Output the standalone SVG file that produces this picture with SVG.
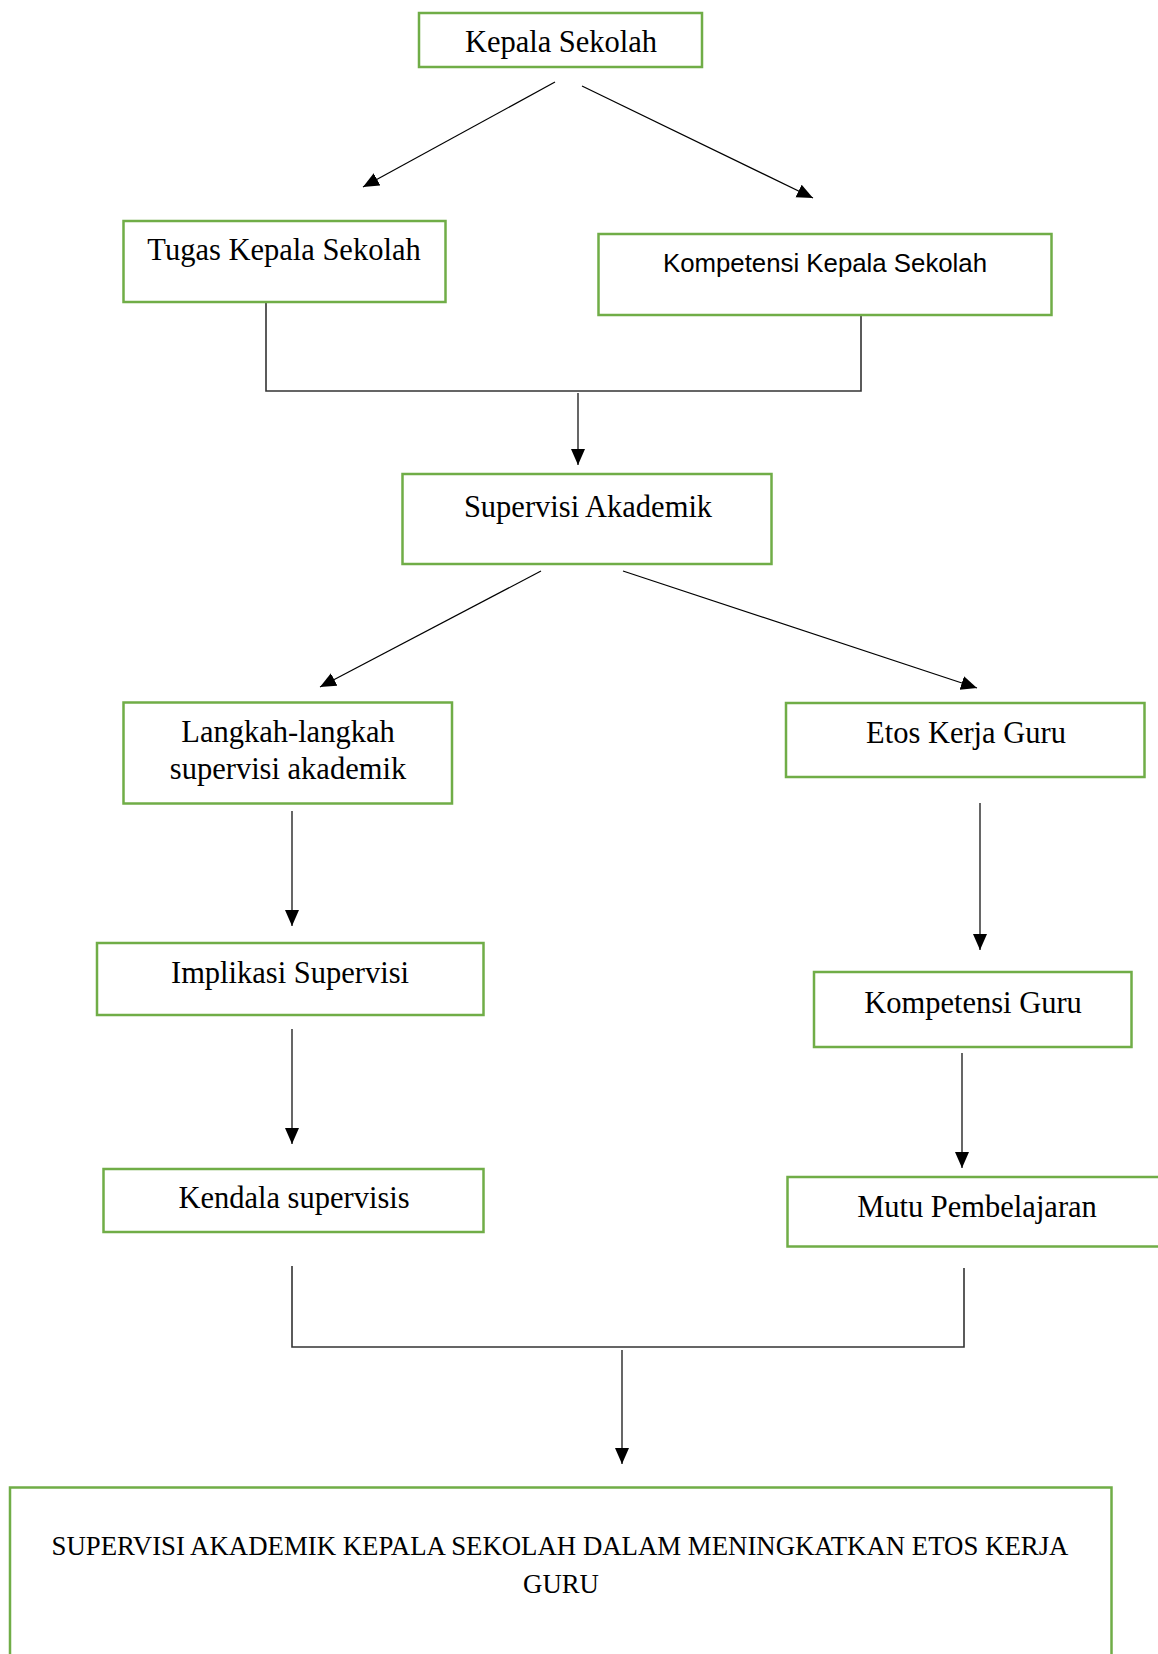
<svg xmlns="http://www.w3.org/2000/svg" width="1158" height="1654" viewBox="0 0 1158 1654">
<style>
.box{fill:#fff;stroke:#70AD47;stroke-width:2.5}
.t{font-family:"Liberation Serif","DejaVu Serif",serif;font-size:30.5px;fill:#000;text-anchor:middle}
.s{font-family:"Liberation Sans",Arial,sans-serif;font-size:25.8px;fill:#000;text-anchor:middle}
.c{font-family:"Liberation Serif","DejaVu Serif",serif;font-size:26.8px;fill:#000;text-anchor:middle}
.ln{stroke:#000;stroke-width:1.2;fill:none}
.j{stroke:#333;stroke-width:1.6;fill:none}
</style>
<defs>
<marker id="ah" markerUnits="userSpaceOnUse" markerWidth="18" markerHeight="16" refX="16" refY="7" orient="auto">
<path d="M0,0 L16,7 L0,14 z" fill="#000"/>
</marker>
</defs>
<rect width="1158" height="1654" fill="#fff"/>
<g id="connectors">
<line class="ln" x1="555" y1="82" x2="363" y2="187" marker-end="url(#ah)"/>
<line class="ln" x1="582" y1="86" x2="813" y2="198" marker-end="url(#ah)"/>
<polyline class="j" points="266,302 266,391 861,391 861,313"/>
<line class="ln" x1="578" y1="393" x2="578" y2="465" marker-end="url(#ah)"/>
<line class="ln" x1="541" y1="571" x2="320" y2="687" marker-end="url(#ah)"/>
<line class="ln" x1="623" y1="571" x2="977" y2="688" marker-end="url(#ah)"/>
<line class="ln" x1="292" y1="811" x2="292" y2="926" marker-end="url(#ah)"/>
<line class="ln" x1="980" y1="803" x2="980" y2="950" marker-end="url(#ah)"/>
<line class="ln" x1="292" y1="1029" x2="292" y2="1144" marker-end="url(#ah)"/>
<line class="ln" x1="962" y1="1053" x2="962" y2="1168" marker-end="url(#ah)"/>
<polyline class="j" points="292,1266 292,1347 964,1347 964,1268"/>
<line class="ln" x1="622" y1="1350" x2="622" y2="1464" marker-end="url(#ah)"/>
</g>
<g id="kepala-sekolah">
<rect class="box" x="419" y="13" width="283" height="54"/>
<text class="t" x="561" y="52">Kepala Sekolah</text>
</g>
<g id="tugas-kepala-sekolah">
<rect class="box" x="123.5" y="221" width="322" height="81"/>
<text class="t" x="284" y="260">Tugas Kepala Sekolah</text>
</g>
<g id="kompetensi-kepala-sekolah">
<rect class="box" x="598.5" y="234" width="453" height="81"/>
<text class="s" x="825" y="272">Kompetensi Kepala Sekolah</text>
</g>
<g id="supervisi-akademik">
<rect class="box" x="402.5" y="474" width="369" height="90"/>
<text class="t" x="588" y="517">Supervisi Akademik</text>
</g>
<g id="langkah-langkah">
<rect class="box" x="123.5" y="702.5" width="328.5" height="101"/>
<text class="t" x="288" y="742">Langkah-langkah</text>
<text class="t" x="288" y="779">supervisi akademik</text>
</g>
<g id="etos-kerja-guru">
<rect class="box" x="786" y="703" width="358.5" height="74"/>
<text class="t" x="966" y="743">Etos Kerja Guru</text>
</g>
<g id="implikasi-supervisi">
<rect class="box" x="97" y="943" width="386.5" height="72"/>
<text class="t" x="290" y="983">Implikasi Supervisi</text>
</g>
<g id="kompetensi-guru">
<rect class="box" x="814" y="972" width="317.5" height="75"/>
<text class="t" x="973" y="1013">Kompetensi Guru</text>
</g>
<g id="kendala-supervisis">
<rect class="box" x="103.5" y="1169" width="380" height="63"/>
<text class="t" x="294" y="1208">Kendala supervisis</text>
</g>
<g id="mutu-pembelajaran">
<rect class="box" x="787.5" y="1177" width="390" height="69.5"/>
<text class="t" x="977" y="1217">Mutu Pembelajaran</text>
</g>
<g id="judul">
<rect class="box" x="10" y="1487.5" width="1101.5" height="220"/>
<text class="c" x="560" y="1555">SUPERVISI AKADEMIK KEPALA SEKOLAH DALAM MENINGKATKAN ETOS KERJA</text>
<text class="c" x="561" y="1593">GURU</text>
</g>
</svg>
